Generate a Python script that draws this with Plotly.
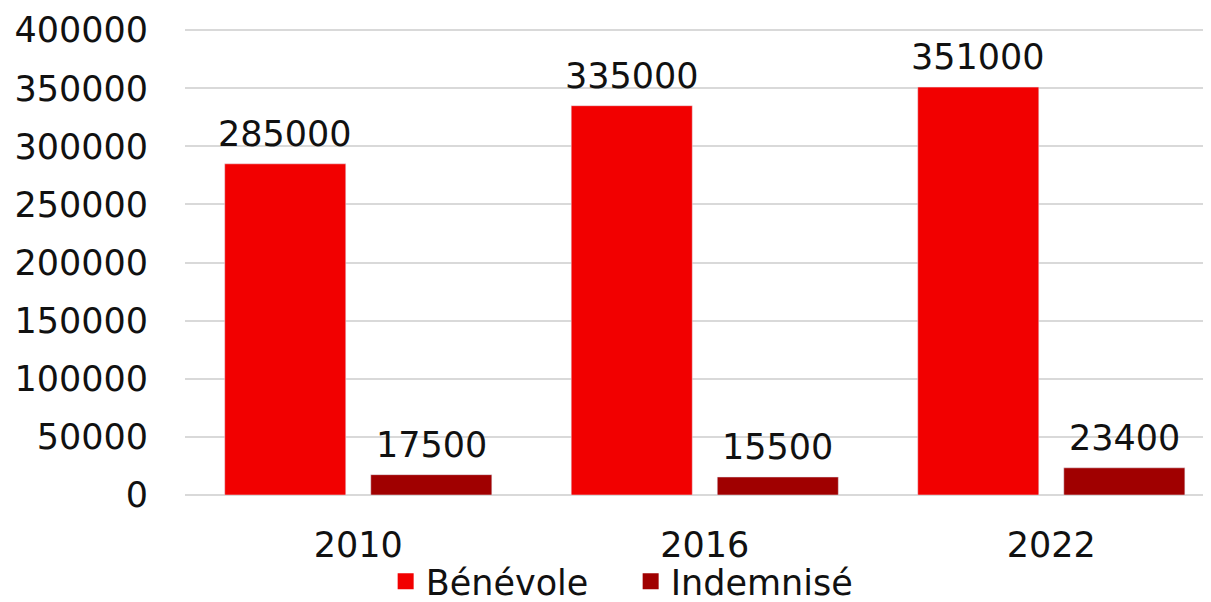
import plotly.graph_objs as go

## data
years = ['2010', '2016', '2022']
benevole = [285000, 335000, 351000]
indemnise = [17500, 15500, 23400]

red = '#f20000'
dark_red = '#a00000'
font_main = dict(family='DejaVu Sans', size=35, color='#111111')

bar_shift = 73  # px from category centre to each bar centre

trace_benevole = go.Bar(
    x=years, y=benevole, name='Bénévole',
    marker=dict(color=red), showlegend=False,
)
trace_indemnise = go.Bar(
    x=years, y=indemnise, name='Indemnisé',
    marker=dict(color=dark_red), showlegend=False,
)

## legend-only entries with bigger square swatches
legend_benevole = go.Scatter(
    x=[None], y=[None], mode='markers', name='Bénévole',
    marker=dict(symbol='square', size=19, color=red),
)
legend_indemnise = go.Scatter(
    x=[None], y=[None], mode='markers', name='Indemnisé',
    marker=dict(symbol='square', size=19, color=dark_red),
)

## value labels above bars (x = category index)
labels = []
for i, v in enumerate(benevole):
    labels.append(dict(x=i, y=v, xref='x', yref='y', text=str(v),
                       xshift=-bar_shift, yshift=8,
                       showarrow=False, yanchor='bottom', font=font_main))
for i, v in enumerate(indemnise):
    labels.append(dict(x=i, y=v, xref='x', yref='y', text=str(v),
                       xshift=bar_shift, yshift=8,
                       showarrow=False, yanchor='bottom', font=font_main))

# page body has an 8px margin, so the figure is shifted 8px right/down
fig_w, fig_h = 1211, 603
top = 21
plot_h = fig_h - top
layout = go.Layout(
    width=fig_w,
    height=fig_h,
    margin=dict(l=177, r=0, t=top, b=0),
    paper_bgcolor='white',
    plot_bgcolor='white',
    font=font_main,
    barmode='group',
    bargap=0.157,
    bargroupgap=0.171,
    annotations=labels,
    xaxis=dict(
        type='category',
        range=[-0.5, 2.484],
        automargin=False,
        showgrid=False,
        showline=False,
        ticks='',
        ticklabelstandoff=26,
        tickfont=font_main,
    ),
    yaxis=dict(
        domain=[(fig_h - 487) / plot_h, 1],
        range=[0, 401000],
        dtick=50000,
        automargin=False,
        showgrid=True,
        gridcolor='#d9d9d9',
        gridwidth=2,
        zeroline=True,
        zerolinecolor='#d9d9d9',
        zerolinewidth=2,
        showline=False,
        ticks='',
        tickformat='d',
        ticklabelstandoff=36,
        tickfont=font_main,
    ),
    showlegend=True,
    legend=dict(
        orientation='h',
        x=0.431,
        xanchor='center',
        y=0,
        yanchor='bottom',
        bgcolor='rgba(0,0,0,0)',
        font=font_main,
        traceorder='normal',
        itemwidth=30,
        entrywidth=200,
    ),
)

fig = go.Figure(data=[trace_benevole, trace_indemnise, legend_benevole, legend_indemnise], layout=layout)
fig.write_html("out.html")
